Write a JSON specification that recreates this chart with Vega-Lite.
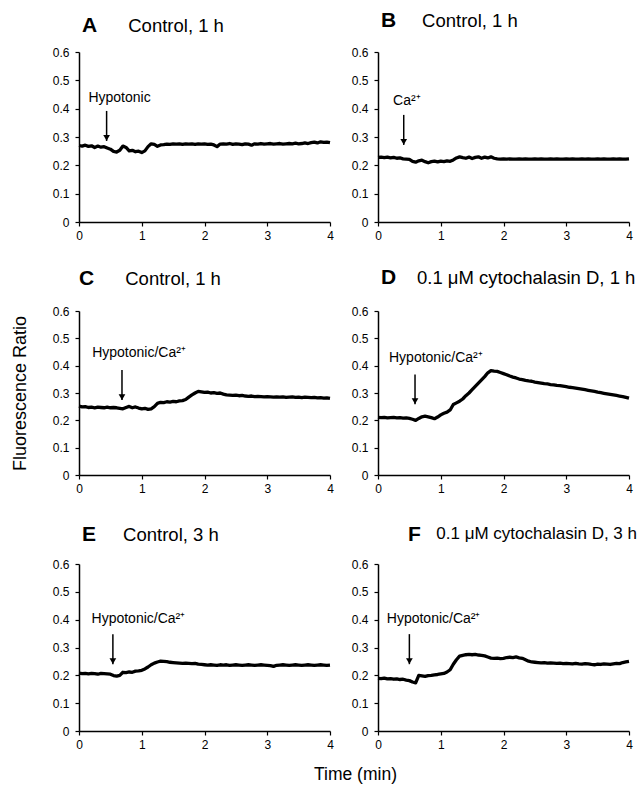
{
"$schema":"https://vega.github.io/schema/vega-lite/v6.json",
"padding":{"left":11,"top":10,"right":5,"bottom":2},
"background":"white",
"datasets":{
"A":[{"t":0,"v":0.270},{"t":0.05,"v":0.268},{"t":0.1,"v":0.271},{"t":0.15,"v":0.267},{"t":0.2,"v":0.269},{"t":0.25,"v":0.263},{"t":0.3,"v":0.268},{"t":0.35,"v":0.264},{"t":0.4,"v":0.266},{"t":0.45,"v":0.261},{"t":0.5,"v":0.257},{"t":0.55,"v":0.249},{"t":0.6,"v":0.247},{"t":0.65,"v":0.253},{"t":0.7,"v":0.268},{"t":0.75,"v":0.263},{"t":0.8,"v":0.251},{"t":0.85,"v":0.253},{"t":0.9,"v":0.248},{"t":0.95,"v":0.250},{"t":1.0,"v":0.245},{"t":1.05,"v":0.251},{"t":1.1,"v":0.266},{"t":1.15,"v":0.276},{"t":1.2,"v":0.274},{"t":1.25,"v":0.267},{"t":1.3,"v":0.272},{"t":1.35,"v":0.273},{"t":1.4,"v":0.275},{"t":1.45,"v":0.274},{"t":1.5,"v":0.276},{"t":1.55,"v":0.275},{"t":1.6,"v":0.276},{"t":1.65,"v":0.274},{"t":1.7,"v":0.276},{"t":1.75,"v":0.275},{"t":1.8,"v":0.276},{"t":1.85,"v":0.274},{"t":1.9,"v":0.276},{"t":1.95,"v":0.275},{"t":2.0,"v":0.276},{"t":2.05,"v":0.274},{"t":2.1,"v":0.275},{"t":2.15,"v":0.272},{"t":2.2,"v":0.266},{"t":2.25,"v":0.275},{"t":2.3,"v":0.276},{"t":2.35,"v":0.275},{"t":2.4,"v":0.277},{"t":2.45,"v":0.274},{"t":2.5,"v":0.276},{"t":2.55,"v":0.275},{"t":2.6,"v":0.273},{"t":2.65,"v":0.276},{"t":2.7,"v":0.275},{"t":2.75,"v":0.271},{"t":2.8,"v":0.276},{"t":2.85,"v":0.275},{"t":2.9,"v":0.277},{"t":2.95,"v":0.275},{"t":3.0,"v":0.276},{"t":3.05,"v":0.277},{"t":3.1,"v":0.275},{"t":3.15,"v":0.276},{"t":3.2,"v":0.277},{"t":3.25,"v":0.275},{"t":3.3,"v":0.276},{"t":3.35,"v":0.277},{"t":3.4,"v":0.276},{"t":3.45,"v":0.278},{"t":3.5,"v":0.276},{"t":3.55,"v":0.277},{"t":3.6,"v":0.279},{"t":3.65,"v":0.277},{"t":3.7,"v":0.280},{"t":3.75,"v":0.282},{"t":3.8,"v":0.279},{"t":3.85,"v":0.283},{"t":3.9,"v":0.281},{"t":3.95,"v":0.282},{"t":4.0,"v":0.280}],
"B":[{"t":0,"v":0.228},{"t":0.05,"v":0.229},{"t":0.1,"v":0.227},{"t":0.15,"v":0.229},{"t":0.2,"v":0.226},{"t":0.25,"v":0.228},{"t":0.3,"v":0.225},{"t":0.35,"v":0.226},{"t":0.4,"v":0.223},{"t":0.45,"v":0.222},{"t":0.5,"v":0.221},{"t":0.55,"v":0.214},{"t":0.6,"v":0.211},{"t":0.65,"v":0.216},{"t":0.7,"v":0.218},{"t":0.75,"v":0.213},{"t":0.8,"v":0.209},{"t":0.85,"v":0.213},{"t":0.9,"v":0.215},{"t":0.95,"v":0.212},{"t":1.0,"v":0.215},{"t":1.05,"v":0.213},{"t":1.1,"v":0.216},{"t":1.15,"v":0.214},{"t":1.2,"v":0.219},{"t":1.25,"v":0.226},{"t":1.3,"v":0.230},{"t":1.35,"v":0.227},{"t":1.4,"v":0.225},{"t":1.45,"v":0.229},{"t":1.5,"v":0.224},{"t":1.55,"v":0.228},{"t":1.6,"v":0.230},{"t":1.65,"v":0.225},{"t":1.7,"v":0.229},{"t":1.75,"v":0.226},{"t":1.8,"v":0.230},{"t":1.85,"v":0.225},{"t":1.9,"v":0.223},{"t":1.95,"v":0.222},{"t":2.0,"v":0.223},{"t":2.05,"v":0.222},{"t":2.1,"v":0.223},{"t":2.15,"v":0.222},{"t":2.2,"v":0.222},{"t":2.25,"v":0.223},{"t":2.3,"v":0.222},{"t":2.35,"v":0.223},{"t":2.4,"v":0.222},{"t":2.45,"v":0.222},{"t":2.5,"v":0.223},{"t":2.55,"v":0.222},{"t":2.6,"v":0.223},{"t":2.65,"v":0.222},{"t":2.7,"v":0.222},{"t":2.75,"v":0.223},{"t":2.8,"v":0.222},{"t":2.85,"v":0.223},{"t":2.9,"v":0.222},{"t":2.95,"v":0.222},{"t":3.0,"v":0.223},{"t":3.05,"v":0.222},{"t":3.1,"v":0.223},{"t":3.15,"v":0.222},{"t":3.2,"v":0.222},{"t":3.25,"v":0.223},{"t":3.3,"v":0.222},{"t":3.35,"v":0.223},{"t":3.4,"v":0.222},{"t":3.45,"v":0.222},{"t":3.5,"v":0.223},{"t":3.55,"v":0.222},{"t":3.6,"v":0.223},{"t":3.65,"v":0.222},{"t":3.7,"v":0.222},{"t":3.75,"v":0.223},{"t":3.8,"v":0.222},{"t":3.85,"v":0.223},{"t":3.9,"v":0.222},{"t":3.95,"v":0.222},{"t":4.0,"v":0.223}],
"C":[{"t":0,"v":0.252},{"t":0.05,"v":0.249},{"t":0.1,"v":0.250},{"t":0.15,"v":0.247},{"t":0.2,"v":0.248},{"t":0.25,"v":0.246},{"t":0.3,"v":0.248},{"t":0.35,"v":0.247},{"t":0.4,"v":0.246},{"t":0.45,"v":0.248},{"t":0.5,"v":0.246},{"t":0.55,"v":0.247},{"t":0.6,"v":0.246},{"t":0.65,"v":0.244},{"t":0.7,"v":0.242},{"t":0.75,"v":0.247},{"t":0.8,"v":0.251},{"t":0.85,"v":0.246},{"t":0.9,"v":0.249},{"t":0.95,"v":0.245},{"t":1.0,"v":0.242},{"t":1.05,"v":0.244},{"t":1.1,"v":0.240},{"t":1.15,"v":0.242},{"t":1.2,"v":0.250},{"t":1.25,"v":0.262},{"t":1.3,"v":0.266},{"t":1.35,"v":0.265},{"t":1.4,"v":0.268},{"t":1.45,"v":0.267},{"t":1.5,"v":0.269},{"t":1.55,"v":0.268},{"t":1.6,"v":0.271},{"t":1.65,"v":0.272},{"t":1.7,"v":0.276},{"t":1.75,"v":0.285},{"t":1.8,"v":0.293},{"t":1.85,"v":0.300},{"t":1.9,"v":0.306},{"t":1.95,"v":0.304},{"t":2.0,"v":0.302},{"t":2.05,"v":0.303},{"t":2.1,"v":0.300},{"t":2.15,"v":0.301},{"t":2.2,"v":0.299},{"t":2.25,"v":0.300},{"t":2.3,"v":0.296},{"t":2.35,"v":0.293},{"t":2.4,"v":0.292},{"t":2.45,"v":0.291},{"t":2.5,"v":0.292},{"t":2.55,"v":0.290},{"t":2.6,"v":0.291},{"t":2.65,"v":0.289},{"t":2.7,"v":0.288},{"t":2.75,"v":0.289},{"t":2.8,"v":0.287},{"t":2.85,"v":0.288},{"t":2.9,"v":0.287},{"t":2.95,"v":0.286},{"t":3.0,"v":0.287},{"t":3.05,"v":0.286},{"t":3.1,"v":0.285},{"t":3.15,"v":0.286},{"t":3.2,"v":0.285},{"t":3.25,"v":0.286},{"t":3.3,"v":0.284},{"t":3.35,"v":0.285},{"t":3.4,"v":0.286},{"t":3.45,"v":0.284},{"t":3.5,"v":0.285},{"t":3.55,"v":0.283},{"t":3.6,"v":0.285},{"t":3.65,"v":0.284},{"t":3.7,"v":0.283},{"t":3.75,"v":0.284},{"t":3.8,"v":0.282},{"t":3.85,"v":0.283},{"t":3.9,"v":0.281},{"t":3.95,"v":0.282},{"t":4.0,"v":0.280}],
"D":[{"t":0,"v":0.211},{"t":0.05,"v":0.210},{"t":0.1,"v":0.211},{"t":0.15,"v":0.209},{"t":0.2,"v":0.210},{"t":0.25,"v":0.211},{"t":0.3,"v":0.209},{"t":0.35,"v":0.210},{"t":0.4,"v":0.208},{"t":0.45,"v":0.209},{"t":0.5,"v":0.207},{"t":0.55,"v":0.204},{"t":0.6,"v":0.200},{"t":0.65,"v":0.207},{"t":0.7,"v":0.213},{"t":0.75,"v":0.215},{"t":0.8,"v":0.213},{"t":0.85,"v":0.210},{"t":0.9,"v":0.206},{"t":0.95,"v":0.212},{"t":1.0,"v":0.220},{"t":1.05,"v":0.226},{"t":1.1,"v":0.230},{"t":1.15,"v":0.238},{"t":1.2,"v":0.258},{"t":1.25,"v":0.264},{"t":1.3,"v":0.270},{"t":1.35,"v":0.278},{"t":1.4,"v":0.290},{"t":1.45,"v":0.300},{"t":1.5,"v":0.312},{"t":1.55,"v":0.324},{"t":1.6,"v":0.336},{"t":1.65,"v":0.348},{"t":1.7,"v":0.360},{"t":1.75,"v":0.374},{"t":1.8,"v":0.382},{"t":1.85,"v":0.380},{"t":1.9,"v":0.379},{"t":1.95,"v":0.375},{"t":2.0,"v":0.371},{"t":2.05,"v":0.367},{"t":2.1,"v":0.362},{"t":2.15,"v":0.358},{"t":2.2,"v":0.355},{"t":2.25,"v":0.351},{"t":2.3,"v":0.349},{"t":2.35,"v":0.346},{"t":2.4,"v":0.344},{"t":2.45,"v":0.343},{"t":2.5,"v":0.340},{"t":2.55,"v":0.338},{"t":2.6,"v":0.336},{"t":2.65,"v":0.334},{"t":2.7,"v":0.333},{"t":2.75,"v":0.331},{"t":2.8,"v":0.330},{"t":2.85,"v":0.328},{"t":2.9,"v":0.327},{"t":2.95,"v":0.325},{"t":3.0,"v":0.323},{"t":3.05,"v":0.321},{"t":3.1,"v":0.320},{"t":3.15,"v":0.318},{"t":3.2,"v":0.316},{"t":3.25,"v":0.314},{"t":3.3,"v":0.312},{"t":3.35,"v":0.310},{"t":3.4,"v":0.308},{"t":3.45,"v":0.306},{"t":3.5,"v":0.303},{"t":3.55,"v":0.301},{"t":3.6,"v":0.299},{"t":3.65,"v":0.297},{"t":3.7,"v":0.295},{"t":3.75,"v":0.293},{"t":3.8,"v":0.291},{"t":3.85,"v":0.289},{"t":3.9,"v":0.287},{"t":3.95,"v":0.284},{"t":4.0,"v":0.281}],
"E":[{"t":0,"v":0.208},{"t":0.05,"v":0.206},{"t":0.1,"v":0.207},{"t":0.15,"v":0.205},{"t":0.2,"v":0.207},{"t":0.25,"v":0.206},{"t":0.3,"v":0.204},{"t":0.35,"v":0.207},{"t":0.4,"v":0.206},{"t":0.45,"v":0.205},{"t":0.5,"v":0.204},{"t":0.55,"v":0.199},{"t":0.6,"v":0.197},{"t":0.65,"v":0.200},{"t":0.7,"v":0.211},{"t":0.75,"v":0.210},{"t":0.8,"v":0.212},{"t":0.85,"v":0.211},{"t":0.9,"v":0.215},{"t":0.95,"v":0.216},{"t":1.0,"v":0.218},{"t":1.05,"v":0.223},{"t":1.1,"v":0.230},{"t":1.15,"v":0.238},{"t":1.2,"v":0.244},{"t":1.25,"v":0.248},{"t":1.3,"v":0.251},{"t":1.35,"v":0.250},{"t":1.4,"v":0.249},{"t":1.45,"v":0.247},{"t":1.5,"v":0.246},{"t":1.55,"v":0.245},{"t":1.6,"v":0.244},{"t":1.65,"v":0.243},{"t":1.7,"v":0.244},{"t":1.75,"v":0.243},{"t":1.8,"v":0.242},{"t":1.85,"v":0.243},{"t":1.9,"v":0.240},{"t":1.95,"v":0.239},{"t":2.0,"v":0.238},{"t":2.05,"v":0.237},{"t":2.1,"v":0.238},{"t":2.15,"v":0.237},{"t":2.2,"v":0.236},{"t":2.25,"v":0.238},{"t":2.3,"v":0.237},{"t":2.35,"v":0.238},{"t":2.4,"v":0.236},{"t":2.45,"v":0.237},{"t":2.5,"v":0.238},{"t":2.55,"v":0.237},{"t":2.6,"v":0.236},{"t":2.65,"v":0.237},{"t":2.7,"v":0.238},{"t":2.75,"v":0.237},{"t":2.8,"v":0.236},{"t":2.85,"v":0.237},{"t":2.9,"v":0.238},{"t":2.95,"v":0.237},{"t":3.0,"v":0.236},{"t":3.05,"v":0.235},{"t":3.1,"v":0.232},{"t":3.15,"v":0.236},{"t":3.2,"v":0.237},{"t":3.25,"v":0.238},{"t":3.3,"v":0.237},{"t":3.35,"v":0.236},{"t":3.4,"v":0.237},{"t":3.45,"v":0.238},{"t":3.5,"v":0.237},{"t":3.55,"v":0.236},{"t":3.6,"v":0.237},{"t":3.65,"v":0.238},{"t":3.7,"v":0.237},{"t":3.75,"v":0.236},{"t":3.8,"v":0.237},{"t":3.85,"v":0.238},{"t":3.9,"v":0.237},{"t":3.95,"v":0.236},{"t":4.0,"v":0.237}],
"F":[{"t":0,"v":0.189},{"t":0.05,"v":0.188},{"t":0.1,"v":0.190},{"t":0.15,"v":0.187},{"t":0.2,"v":0.188},{"t":0.25,"v":0.186},{"t":0.3,"v":0.187},{"t":0.35,"v":0.185},{"t":0.4,"v":0.186},{"t":0.45,"v":0.183},{"t":0.5,"v":0.181},{"t":0.55,"v":0.176},{"t":0.6,"v":0.173},{"t":0.65,"v":0.200},{"t":0.7,"v":0.198},{"t":0.75,"v":0.196},{"t":0.8,"v":0.199},{"t":0.85,"v":0.200},{"t":0.9,"v":0.202},{"t":0.95,"v":0.203},{"t":1.0,"v":0.205},{"t":1.05,"v":0.207},{"t":1.1,"v":0.212},{"t":1.15,"v":0.220},{"t":1.2,"v":0.240},{"t":1.25,"v":0.256},{"t":1.3,"v":0.269},{"t":1.35,"v":0.272},{"t":1.4,"v":0.274},{"t":1.45,"v":0.275},{"t":1.5,"v":0.274},{"t":1.55,"v":0.275},{"t":1.6,"v":0.273},{"t":1.65,"v":0.272},{"t":1.7,"v":0.270},{"t":1.75,"v":0.266},{"t":1.8,"v":0.262},{"t":1.85,"v":0.261},{"t":1.9,"v":0.262},{"t":1.95,"v":0.260},{"t":2.0,"v":0.261},{"t":2.05,"v":0.264},{"t":2.1,"v":0.265},{"t":2.15,"v":0.264},{"t":2.2,"v":0.266},{"t":2.25,"v":0.263},{"t":2.3,"v":0.261},{"t":2.35,"v":0.256},{"t":2.4,"v":0.251},{"t":2.45,"v":0.248},{"t":2.5,"v":0.247},{"t":2.55,"v":0.246},{"t":2.6,"v":0.245},{"t":2.65,"v":0.246},{"t":2.7,"v":0.244},{"t":2.75,"v":0.245},{"t":2.8,"v":0.244},{"t":2.85,"v":0.243},{"t":2.9,"v":0.244},{"t":2.95,"v":0.242},{"t":3.0,"v":0.243},{"t":3.05,"v":0.242},{"t":3.1,"v":0.241},{"t":3.15,"v":0.243},{"t":3.2,"v":0.241},{"t":3.25,"v":0.240},{"t":3.3,"v":0.242},{"t":3.35,"v":0.241},{"t":3.4,"v":0.239},{"t":3.45,"v":0.238},{"t":3.5,"v":0.240},{"t":3.55,"v":0.239},{"t":3.6,"v":0.241},{"t":3.65,"v":0.240},{"t":3.7,"v":0.239},{"t":3.75,"v":0.241},{"t":3.8,"v":0.243},{"t":3.85,"v":0.242},{"t":3.9,"v":0.246},{"t":3.95,"v":0.248},{"t":4.0,"v":0.250}],
"notes":[
{"p":"A","t":0.44,"top":0.392,"tip":0.286,"lt":0.15,"lv":0.425,"label":"Hypotonic"},
{"p":"B","t":0.41,"top":0.378,"tip":0.272,"lt":0.24,"lv":0.413,"label":"Ca²⁺"},
{"p":"C","t":0.685,"top":0.384,"tip":0.274,"lt":0.21,"lv":0.433,"label":"Hypotonic/Ca²⁺"},
{"p":"D","t":0.59,"top":0.368,"tip":0.259,"lt":0.175,"lv":0.415,"label":"Hypotonic/Ca²⁺"},
{"p":"E","t":0.54,"top":0.348,"tip":0.24,"lt":0.2,"lv":0.388,"label":"Hypotonic/Ca²⁺"},
{"p":"F","t":0.50,"top":0.348,"tip":0.24,"lt":0.14,"lv":0.388,"label":"Hypotonic/Ca²⁺"}
]
},
"columns":2,
"spacing":{"row":89,"column":48},
"bounds":"flush",
"concat":[
{"width":251,"height":170,
 "title":{"text":"A","subtitle":"\u200b\u00a0\u00a0\u00a0\u00a0\u00a0\u00a0\u00a0\u00a0\u00a0Control, 1 h","dx":3,"offset":10},
 "layer":[
  {"data":{"name":"A"},"mark":{"type":"line","color":"black","strokeWidth":3.3,"strokeJoin":"round"},
   "encoding":{"x":{"field":"t","type":"quantitative","scale":{"domain":[0,4]},"axis":{"values":[0,1,2,3,4],"format":"~g","title":null}},
               "y":{"field":"v","type":"quantitative","scale":{"domain":[0,0.6]},"axis":{"values":[0,0.1,0.2,0.3,0.4,0.5,0.6],"format":"~g","title":null}}}},
  {"data":{"name":"notes"},"transform":[{"filter":"datum.p === 'A'"}],"mark":{"type":"rule","color":"black","strokeWidth":1.5},
   "encoding":{"x":{"field":"t","type":"quantitative","scale":{"domain":[0,4]},"axis":{"values":[0,1,2,3,4],"format":"~g","title":null}},"y":{"field":"top","type":"quantitative","scale":{"domain":[0,0.6]},"axis":{"values":[0,0.1,0.2,0.3,0.4,0.5,0.6],"format":"~g","title":null}},"y2":{"field":"tip"}}},
  {"data":{"name":"notes"},"transform":[{"filter":"datum.p === 'A'"}],"mark":{"type":"point","shape":"triangle-down","filled":true,"color":"black","opacity":1,"size":45,"yOffset":-3},
   "encoding":{"x":{"field":"t","type":"quantitative","scale":{"domain":[0,4]},"axis":{"values":[0,1,2,3,4],"format":"~g","title":null}},"y":{"field":"tip","type":"quantitative","scale":{"domain":[0,0.6]},"axis":{"values":[0,0.1,0.2,0.3,0.4,0.5,0.6],"format":"~g","title":null}}}},
  {"data":{"name":"notes"},"transform":[{"filter":"datum.p === 'A'"}],"mark":{"type":"text","align":"left","baseline":"alphabetic","fontSize":14,"font":"Liberation Sans","color":"black"},
   "encoding":{"x":{"field":"lt","type":"quantitative","scale":{"domain":[0,4]},"axis":{"values":[0,1,2,3,4],"format":"~g","title":null}},"y":{"field":"lv","type":"quantitative","scale":{"domain":[0,0.6]},"axis":{"values":[0,0.1,0.2,0.3,0.4,0.5,0.6],"format":"~g","title":null}},"text":{"field":"label"}}}
 ]},
{"width":251,"height":170,
 "title":{"text":"B","subtitle":"\u200b\u00a0\u00a0\u00a0\u00a0\u00a0\u00a0\u00a0\u00a0Control, 1 h","dx":3,"offset":15},
 "layer":[
  {"data":{"name":"B"},"mark":{"type":"line","color":"black","strokeWidth":3.3,"strokeJoin":"round"},
   "encoding":{"x":{"field":"t","type":"quantitative","scale":{"domain":[0,4]},"axis":{"values":[0,1,2,3,4],"format":"~g","title":null}},
               "y":{"field":"v","type":"quantitative","scale":{"domain":[0,0.6]},"axis":{"values":[0,0.1,0.2,0.3,0.4,0.5,0.6],"format":"~g","title":null}}}},
  {"data":{"name":"notes"},"transform":[{"filter":"datum.p === 'B'"}],"mark":{"type":"rule","color":"black","strokeWidth":1.5},
   "encoding":{"x":{"field":"t","type":"quantitative","scale":{"domain":[0,4]},"axis":{"values":[0,1,2,3,4],"format":"~g","title":null}},"y":{"field":"top","type":"quantitative","scale":{"domain":[0,0.6]},"axis":{"values":[0,0.1,0.2,0.3,0.4,0.5,0.6],"format":"~g","title":null}},"y2":{"field":"tip"}}},
  {"data":{"name":"notes"},"transform":[{"filter":"datum.p === 'B'"}],"mark":{"type":"point","shape":"triangle-down","filled":true,"color":"black","opacity":1,"size":45,"yOffset":-3},
   "encoding":{"x":{"field":"t","type":"quantitative","scale":{"domain":[0,4]},"axis":{"values":[0,1,2,3,4],"format":"~g","title":null}},"y":{"field":"tip","type":"quantitative","scale":{"domain":[0,0.6]},"axis":{"values":[0,0.1,0.2,0.3,0.4,0.5,0.6],"format":"~g","title":null}}}},
  {"data":{"name":"notes"},"transform":[{"filter":"datum.p === 'B'"}],"mark":{"type":"text","align":"left","baseline":"alphabetic","fontSize":14,"font":"Liberation Sans","color":"black"},
   "encoding":{"x":{"field":"lt","type":"quantitative","scale":{"domain":[0,4]},"axis":{"values":[0,1,2,3,4],"format":"~g","title":null}},"y":{"field":"lv","type":"quantitative","scale":{"domain":[0,0.6]},"axis":{"values":[0,0.1,0.2,0.3,0.4,0.5,0.6],"format":"~g","title":null}},"text":{"field":"label"}}}
 ]},
{"width":251,"height":164,
 "title":{"text":"C","subtitle":"\u200b\u00a0\u00a0\u00a0\u00a0\u00a0\u00a0\u00a0\u00a0\u00a0Control, 1 h","dx":0,"offset":16},
 "layer":[
  {"data":{"name":"C"},"mark":{"type":"line","color":"black","strokeWidth":3.3,"strokeJoin":"round"},
   "encoding":{"x":{"field":"t","type":"quantitative","scale":{"domain":[0,4]},"axis":{"values":[0,1,2,3,4],"format":"~g","title":null}},
               "y":{"field":"v","type":"quantitative","scale":{"domain":[0,0.6]},"axis":{"values":[0,0.1,0.2,0.3,0.4,0.5,0.6],"format":"~g","title":"Fluorescence Ratio","titlePadding":23,"titleFontSize":18}}}},
  {"data":{"name":"notes"},"transform":[{"filter":"datum.p === 'C'"}],"mark":{"type":"rule","color":"black","strokeWidth":1.5},
   "encoding":{"x":{"field":"t","type":"quantitative","scale":{"domain":[0,4]},"axis":{"values":[0,1,2,3,4],"format":"~g","title":null}},"y":{"field":"top","type":"quantitative","scale":{"domain":[0,0.6]},"axis":{"values":[0,0.1,0.2,0.3,0.4,0.5,0.6],"format":"~g","title":"Fluorescence Ratio","titlePadding":23,"titleFontSize":18}},"y2":{"field":"tip"}}},
  {"data":{"name":"notes"},"transform":[{"filter":"datum.p === 'C'"}],"mark":{"type":"point","shape":"triangle-down","filled":true,"color":"black","opacity":1,"size":45,"yOffset":-3},
   "encoding":{"x":{"field":"t","type":"quantitative","scale":{"domain":[0,4]},"axis":{"values":[0,1,2,3,4],"format":"~g","title":null}},"y":{"field":"tip","type":"quantitative","scale":{"domain":[0,0.6]},"axis":{"values":[0,0.1,0.2,0.3,0.4,0.5,0.6],"format":"~g","title":"Fluorescence Ratio","titlePadding":23,"titleFontSize":18}}}},
  {"data":{"name":"notes"},"transform":[{"filter":"datum.p === 'C'"}],"mark":{"type":"text","align":"left","baseline":"alphabetic","fontSize":14,"font":"Liberation Sans","color":"black"},
   "encoding":{"x":{"field":"lt","type":"quantitative","scale":{"domain":[0,4]},"axis":{"values":[0,1,2,3,4],"format":"~g","title":null}},"y":{"field":"lv","type":"quantitative","scale":{"domain":[0,0.6]},"axis":{"values":[0,0.1,0.2,0.3,0.4,0.5,0.6],"format":"~g","title":"Fluorescence Ratio","titlePadding":23,"titleFontSize":18}},"text":{"field":"label"}}}
 ]},
{"width":251,"height":164,
 "title":{"text":"D","subtitle":"\u200b\u00a0\u00a0\u00a0\u00a0\u00a0\u00a0\u00a00.1 μM cytochalasin D, 1 h","dx":3,"offset":17},
 "layer":[
  {"data":{"name":"D"},"mark":{"type":"line","color":"black","strokeWidth":3.3,"strokeJoin":"round"},
   "encoding":{"x":{"field":"t","type":"quantitative","scale":{"domain":[0,4]},"axis":{"values":[0,1,2,3,4],"format":"~g","title":null}},
               "y":{"field":"v","type":"quantitative","scale":{"domain":[0,0.6]},"axis":{"values":[0,0.1,0.2,0.3,0.4,0.5,0.6],"format":"~g","title":null}}}},
  {"data":{"name":"notes"},"transform":[{"filter":"datum.p === 'D'"}],"mark":{"type":"rule","color":"black","strokeWidth":1.5},
   "encoding":{"x":{"field":"t","type":"quantitative","scale":{"domain":[0,4]},"axis":{"values":[0,1,2,3,4],"format":"~g","title":null}},"y":{"field":"top","type":"quantitative","scale":{"domain":[0,0.6]},"axis":{"values":[0,0.1,0.2,0.3,0.4,0.5,0.6],"format":"~g","title":null}},"y2":{"field":"tip"}}},
  {"data":{"name":"notes"},"transform":[{"filter":"datum.p === 'D'"}],"mark":{"type":"point","shape":"triangle-down","filled":true,"color":"black","opacity":1,"size":45,"yOffset":-3},
   "encoding":{"x":{"field":"t","type":"quantitative","scale":{"domain":[0,4]},"axis":{"values":[0,1,2,3,4],"format":"~g","title":null}},"y":{"field":"tip","type":"quantitative","scale":{"domain":[0,0.6]},"axis":{"values":[0,0.1,0.2,0.3,0.4,0.5,0.6],"format":"~g","title":null}}}},
  {"data":{"name":"notes"},"transform":[{"filter":"datum.p === 'D'"}],"mark":{"type":"text","align":"left","baseline":"alphabetic","fontSize":14,"font":"Liberation Sans","color":"black"},
   "encoding":{"x":{"field":"lt","type":"quantitative","scale":{"domain":[0,4]},"axis":{"values":[0,1,2,3,4],"format":"~g","title":null}},"y":{"field":"lv","type":"quantitative","scale":{"domain":[0,0.6]},"axis":{"values":[0,0.1,0.2,0.3,0.4,0.5,0.6],"format":"~g","title":null}},"text":{"field":"label"}}}
 ]},
{"width":251,"height":167,
 "title":{"text":"E","subtitle":"\u200b\u00a0\u00a0\u00a0\u00a0\u00a0\u00a0\u00a0\u00a0Control, 3 h","dx":3,"offset":13},
 "layer":[
  {"data":{"name":"E"},"mark":{"type":"line","color":"black","strokeWidth":3.3,"strokeJoin":"round"},
   "encoding":{"x":{"field":"t","type":"quantitative","scale":{"domain":[0,4]},"axis":{"values":[0,1,2,3,4],"format":"~g","title":"Time (min)","titleX":276,"titlePadding":15,"titleFontSize":17.5}},
               "y":{"field":"v","type":"quantitative","scale":{"domain":[0,0.6]},"axis":{"values":[0,0.1,0.2,0.3,0.4,0.5,0.6],"format":"~g","title":null}}}},
  {"data":{"name":"notes"},"transform":[{"filter":"datum.p === 'E'"}],"mark":{"type":"rule","color":"black","strokeWidth":1.5},
   "encoding":{"x":{"field":"t","type":"quantitative","scale":{"domain":[0,4]},"axis":{"values":[0,1,2,3,4],"format":"~g","title":"Time (min)","titleX":276,"titlePadding":15,"titleFontSize":17.5}},"y":{"field":"top","type":"quantitative","scale":{"domain":[0,0.6]},"axis":{"values":[0,0.1,0.2,0.3,0.4,0.5,0.6],"format":"~g","title":null}},"y2":{"field":"tip"}}},
  {"data":{"name":"notes"},"transform":[{"filter":"datum.p === 'E'"}],"mark":{"type":"point","shape":"triangle-down","filled":true,"color":"black","opacity":1,"size":45,"yOffset":-3},
   "encoding":{"x":{"field":"t","type":"quantitative","scale":{"domain":[0,4]},"axis":{"values":[0,1,2,3,4],"format":"~g","title":"Time (min)","titleX":276,"titlePadding":15,"titleFontSize":17.5}},"y":{"field":"tip","type":"quantitative","scale":{"domain":[0,0.6]},"axis":{"values":[0,0.1,0.2,0.3,0.4,0.5,0.6],"format":"~g","title":null}}}},
  {"data":{"name":"notes"},"transform":[{"filter":"datum.p === 'E'"}],"mark":{"type":"text","align":"left","baseline":"alphabetic","fontSize":14,"font":"Liberation Sans","color":"black"},
   "encoding":{"x":{"field":"lt","type":"quantitative","scale":{"domain":[0,4]},"axis":{"values":[0,1,2,3,4],"format":"~g","title":"Time (min)","titleX":276,"titlePadding":15,"titleFontSize":17.5}},"y":{"field":"lv","type":"quantitative","scale":{"domain":[0,0.6]},"axis":{"values":[0,0.1,0.2,0.3,0.4,0.5,0.6],"format":"~g","title":null}},"text":{"field":"label"}}}
 ]},
{"width":251,"height":167,
 "title":{"text":"F","subtitle":"\u200b\u00a0\u00a0\u00a0\u00a0\u00a0\u00a00.1 μM cytochalasin D, 3 h","dx":30,"offset":13,"subtitleFontSize":17},
 "layer":[
  {"data":{"name":"F"},"mark":{"type":"line","color":"black","strokeWidth":3.3,"strokeJoin":"round"},
   "encoding":{"x":{"field":"t","type":"quantitative","scale":{"domain":[0,4]},"axis":{"values":[0,1,2,3,4],"format":"~g","title":null}},
               "y":{"field":"v","type":"quantitative","scale":{"domain":[0,0.6]},"axis":{"values":[0,0.1,0.2,0.3,0.4,0.5,0.6],"format":"~g","title":null}}}},
  {"data":{"name":"notes"},"transform":[{"filter":"datum.p === 'F'"}],"mark":{"type":"rule","color":"black","strokeWidth":1.5},
   "encoding":{"x":{"field":"t","type":"quantitative","scale":{"domain":[0,4]},"axis":{"values":[0,1,2,3,4],"format":"~g","title":null}},"y":{"field":"top","type":"quantitative","scale":{"domain":[0,0.6]},"axis":{"values":[0,0.1,0.2,0.3,0.4,0.5,0.6],"format":"~g","title":null}},"y2":{"field":"tip"}}},
  {"data":{"name":"notes"},"transform":[{"filter":"datum.p === 'F'"}],"mark":{"type":"point","shape":"triangle-down","filled":true,"color":"black","opacity":1,"size":45,"yOffset":-3},
   "encoding":{"x":{"field":"t","type":"quantitative","scale":{"domain":[0,4]},"axis":{"values":[0,1,2,3,4],"format":"~g","title":null}},"y":{"field":"tip","type":"quantitative","scale":{"domain":[0,0.6]},"axis":{"values":[0,0.1,0.2,0.3,0.4,0.5,0.6],"format":"~g","title":null}}}},
  {"data":{"name":"notes"},"transform":[{"filter":"datum.p === 'F'"}],"mark":{"type":"text","align":"left","baseline":"alphabetic","fontSize":14,"font":"Liberation Sans","color":"black"},
   "encoding":{"x":{"field":"lt","type":"quantitative","scale":{"domain":[0,4]},"axis":{"values":[0,1,2,3,4],"format":"~g","title":null}},"y":{"field":"lv","type":"quantitative","scale":{"domain":[0,0.6]},"axis":{"values":[0,0.1,0.2,0.3,0.4,0.5,0.6],"format":"~g","title":null}},"text":{"field":"label"}}}
 ]}
],
"config":{
 "view":{"stroke":null},
 "font":"Liberation Sans",
 "axis":{"grid":false,"domainColor":"black","domainWidth":1.5,"tickColor":"black","tickWidth":1.2,"tickSize":4,"labelFont":"Liberation Sans","labelFontSize":12,"labelColor":"black","labelFlush":false,"titleFont":"Liberation Sans","titleFontWeight":"normal","titleColor":"black"},
 "axisX":{"labelPadding":4},
 "axisY":{"labelPadding":6},
 "title":{"anchor":"start","frame":"group","font":"Liberation Sans","fontSize":21,"fontWeight":"bold","color":"black","subtitleFont":"Liberation Sans","subtitleFontSize":18.5,"subtitleColor":"black","subtitleFontWeight":"normal","subtitlePadding":-19}
}
}
